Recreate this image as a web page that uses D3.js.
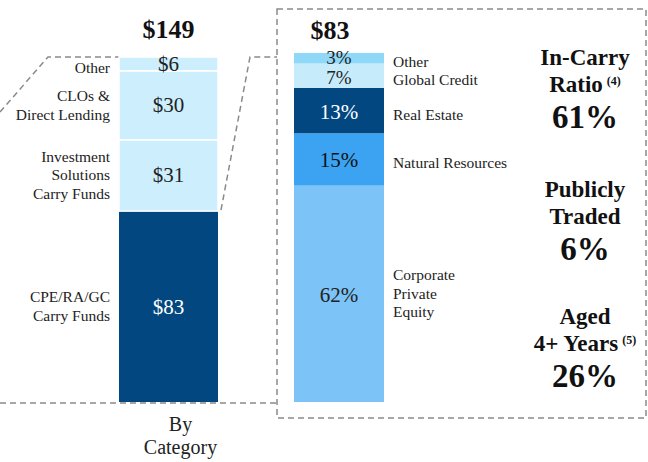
<!DOCTYPE html>
<html>
<head>
<meta charset="utf-8">
<script src="https://cdn.jsdelivr.net/npm/d3@7"></script>
<style>
  body { margin: 0; background: #fff; }
  text { font-family: "Liberation Serif", "Times New Roman", serif; }
</style>
</head>
<body>
<script>
// left bar: by category ($bn), bottom to top
const leftCategories = [
  ["CPE/RA/GC", "Carry Funds"],
  ["Investment", "Solutions", "Carry Funds"],
  ["CLOs &", "Direct Lending"],
  ["Other"]
];
const leftValues = [83, 31, 30, 6];
const leftTotal = "$149";

// right bar: split of the $83, bottom to top
const rightCategories = [
  ["Corporate", "Private", "Equity"],
  ["Natural Resources"],
  ["Real Estate"],
  ["Global Credit"],
  ["Other"]
];
const rightValues = [62, 15, 13, 7, 3];
const rightTotal = "$83";

// stats on the far right
const statLabels = [
  ["In-Carry", "Ratio", "(4)"],
  ["Publicly", "Traded", ""],
  ["Aged", "4+ Years", "(5)"]
];
const statValues = ["61%", "6%", "26%"];

const leftColors = ["#02477f", "#cdeefd", "#cdeefd", "#cdeefd"];
const leftText = ["#fff", "#222", "#222", "#222"];
const rightColors = ["#7cc3f7", "#3ba3f2", "#02477f", "#c6ecfc", "#8fd8f8"];
const rightText = ["#222", "#111", "#fff", "#222", "#222"];

const w = 648, h = 462;
const barTop = 57, barBottom = 402;
const dash = "#8a8a8a";

const svg = d3.select("body").append("svg").attr("width", w).attr("height", h);

const stack = vals => {
  let acc = 0;
  return vals.map(v => { const d = { y0: acc, y1: acc + v, v }; acc += v; return d; });
};

// dashed guides (behind bars)
svg.append("polyline")
  .attr("points", `0,112 48,57 119,57`)
  .attr("fill", "none").attr("stroke", dash).attr("stroke-width", 1.5).attr("stroke-dasharray", "6,4");
svg.append("polyline")
  .attr("points", `221,210 250,57 277,57`)
  .attr("fill", "none").attr("stroke", dash).attr("stroke-width", 1.5).attr("stroke-dasharray", "6,4");
svg.append("line")
  .attr("x1", 0).attr("x2", 277).attr("y1", 403).attr("y2", 403)
  .attr("stroke", dash).attr("stroke-width", 1.5).attr("stroke-dasharray", "6,4");
svg.append("rect")
  .attr("x", 277).attr("y", 9).attr("width", 369).attr("height", 409)
  .attr("fill", "none").attr("stroke", dash).attr("stroke-width", 1.5).attr("stroke-dasharray", "6,4");

// ---- left bar
const yL = d3.scaleLinear().domain([0, d3.sum(leftValues)]).range([barBottom, barTop]);
const xL = d3.scaleBand().domain(["By Category"]).range([119, 218]);
const leftData = stack(leftValues);

const gL = svg.append("g");
gL.selectAll("rect").data(leftData).enter().append("rect")
  .attr("x", xL("By Category"))
  .attr("width", xL.bandwidth())
  .attr("y", d => yL(d.y1))
  .attr("height", d => yL(d.y0) - yL(d.y1))
  .attr("fill", (d, i) => leftColors[i])
  .attr("stroke", "#fff").attr("stroke-width", (d, i) => i === 0 ? 0 : 1.5);

gL.selectAll("text.val").data(leftData).enter().append("text")
  .attr("class", "val")
  .attr("x", xL("By Category") + xL.bandwidth() / 2)
  .attr("y", d => (yL(d.y0) + yL(d.y1)) / 2 + 7)
  .attr("text-anchor", "middle")
  .attr("font-size", 21)
  .attr("fill", (d, i) => leftText[i])
  .text(d => "$" + d.v);

gL.selectAll("text.cat").data(leftData).enter().append("text")
  .attr("class", "cat")
  .attr("text-anchor", "end")
  .attr("font-size", 15.5)
  .attr("fill", "#222")
  .each(function (d, i) {
    const lines = leftCategories[i];
    const mid = (yL(d.y0) + yL(d.y1)) / 2 + (lines.length === 1 ? 4 : 0);
    const lh = 18.5;
    d3.select(this).selectAll("tspan").data(lines).enter().append("tspan")
      .attr("x", 110)
      .attr("y", (l, j) => mid + (j - (lines.length - 1) / 2) * lh + 5)
      .text(l => l);
  });

svg.append("text")
  .attr("x", xL("By Category") + xL.bandwidth() / 2).attr("y", 38)
  .attr("text-anchor", "middle").attr("font-size", 26).attr("font-weight", "bold")
  .attr("fill", "#111").text(leftTotal);

svg.append("text")
  .attr("text-anchor", "middle").attr("font-size", 20).attr("fill", "#222")
  .selectAll("tspan").data(xL.domain()[0].split(" ")).enter().append("tspan")
  .attr("x", xL("By Category") + xL.bandwidth() / 2 + 12)
  .attr("y", (d, i) => 431 + i * 23)
  .text(d => d);

// ---- right bar
const yR = d3.scaleLinear().domain([0, d3.sum(rightValues)]).range([barBottom, 53]);
const xR = d3.scaleBand().domain(["CPE/RA/GC"]).range([294, 384]);
const rightData = stack(rightValues);

const gR = svg.append("g");
gR.selectAll("rect").data(rightData).enter().append("rect")
  .attr("x", xR("CPE/RA/GC"))
  .attr("width", xR.bandwidth())
  .attr("y", d => yR(d.y1))
  .attr("height", d => yR(d.y0) - yR(d.y1))
  .attr("fill", (d, i) => rightColors[i]);

gR.selectAll("text.val").data(rightData).enter().append("text")
  .attr("class", "val")
  .attr("x", xR("CPE/RA/GC") + xR.bandwidth() / 2)
  .attr("y", (d, i) => (yR(d.y0) + yR(d.y1)) / 2 + (i === 4 ? 6 : 8))
  .attr("text-anchor", "middle")
  .attr("font-size", (d, i) => i >= 3 ? 19 : 21)
  .attr("fill", (d, i) => rightText[i])
  .text(d => d.v + "%");

gR.selectAll("text.cat").data(rightData).enter().append("text")
  .attr("class", "cat")
  .attr("font-size", 15.5)
  .attr("fill", "#222")
  .each(function (d, i) {
    const lines = rightCategories[i];
    const mid = (yR(d.y0) + yR(d.y1)) / 2 + (lines.length === 1 ? 4 : 0);
    const lh = 18.5;
    d3.select(this).selectAll("tspan").data(lines).enter().append("tspan")
      .attr("x", 393)
      .attr("y", (l, j) => mid + (j - (lines.length - 1) / 2) * lh + 5)
      .text(l => l);
  });

svg.append("text")
  .attr("x", xR("CPE/RA/GC") + xR.bandwidth() / 2 - 9).attr("y", 39)
  .attr("text-anchor", "middle").attr("font-size", 26).attr("font-weight", "bold")
  .attr("fill", "#111").text(rightTotal);

// ---- stats
const statTop = [65, 197, 324];
const gS = svg.append("g").attr("fill", "#111").attr("font-weight", "bold").attr("text-anchor", "middle");
statLabels.forEach((lab, i) => {
  const cx = 585, y = statTop[i];
  gS.append("text").attr("x", cx).attr("y", y).attr("font-size", 23).text(lab[0]);
  const t = gS.append("text").attr("x", cx).attr("y", y + 27).attr("font-size", 23);
  t.append("tspan").text(lab[1]);
  if (lab[2]) t.append("tspan").attr("dx", 4).attr("dy", -7).attr("font-size", 12).text(lab[2]);
  gS.append("text").attr("x", cx).attr("y", y + 63).attr("font-size", 33).text(statValues[i]);
});
</script>
</body>
</html>
